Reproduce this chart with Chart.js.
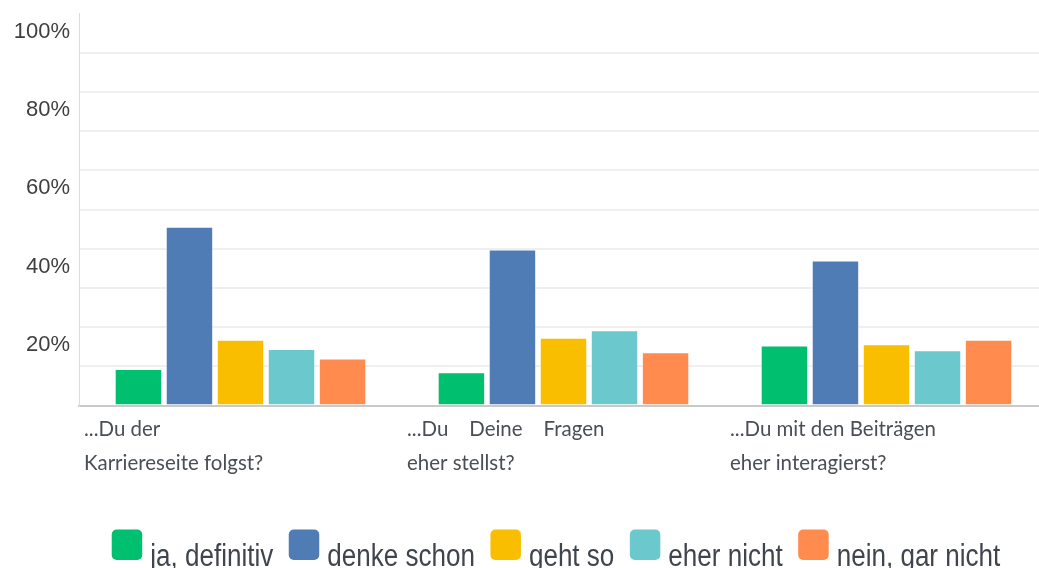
<!DOCTYPE html>
<html>
<head>
<meta charset="utf-8">
<script src="https://cdn.jsdelivr.net/npm/chart.js@4.4.0/dist/chart.umd.min.js"></script>
<style>
  html, body { margin: 0; padding: 0; background: #fff; overflow: hidden; }
  #chart { display: block; }
</style>
</head>
<body>
<canvas id="chart" width="1048" height="568"></canvas>
<script>
// Fragen (x-Achse), eine Zeile pro Eintrag
const fragen = [
  ['...Du der', 'Karriereseite folgst?'],
  ['...Du    Deine    Fragen', 'eher stellst?'],
  ['...Du mit den Beiträgen', 'eher interagierst?']
];
const antworten = ['ja, definitiv', 'denke schon', 'geht so', 'eher nicht', 'nein, gar nicht'];
const farben = ['#00bf6f', '#507cb6', '#f9be00', '#6bc8cd', '#ff8b4f'];

// Anteile in %, Reihenfolge wie "fragen"
const jaDefinitiv = [9.3, 8.5, 15.3];
const denkeSchon = [45.6, 39.8, 37.0];
const gehtSo = [16.8, 17.3, 15.6];
const eherNicht = [14.4, 19.2, 14.1];
const neinGarNicht = [12.0, 13.6, 16.8];

const yBeschriftet = [20, 40, 60, 80, 100];

const werte = [jaDefinitiv, denkeSchon, gehtSo, eherNicht, neinGarNicht];

// x-Beschriftung selbst zeichnen (linksbündig, zweizeilig)
const frageLabels = {
  id: 'frageLabels',
  afterDraw(chart) {
    const { ctx, scales: { x }, chartArea } = chart;
    const breite = x.width / fragen.length;
    ctx.save();
    ctx.fillStyle = '#4a4f55';
    ctx.font = '22px Lato';
    ctx.textBaseline = 'middle';
    fragen.forEach((zeilen, i) => {
      const links = x.getPixelForValue(i) - breite / 2 + 5;
      zeilen.forEach((t, j) => {
        ctx.save();
        ctx.translate(links, chartArea.bottom + 23 + j * 34);
        ctx.scale(0.93, 1);
        ctx.fillText(t, 0, 0);
        ctx.restore();
      });
    });
    ctx.restore();
  }
};

// Legende unten: schmal gesetzte Schrift, Kästchen etwas höher als der Text
const legende = {
  id: 'legende',
  afterDraw(chart) {
    const { ctx } = chart;
    const sx = 0.84, box = 30.5, abstand = 8, luecke = 15.5;
    ctx.save();
    ctx.font = "31px 'Liberation Sans', Arial";
    ctx.textBaseline = 'alphabetic';
    const breiten = antworten.map(a => ctx.measureText(a).width * sx);
    const gesamt = breiten.reduce((s, b) => s + b + box + abstand, 0) + luecke * (antworten.length - 1);
    let x = 556 - gesamt / 2;
    antworten.forEach((a, i) => {
      ctx.fillStyle = farben[i];
      ctx.beginPath();
      ctx.roundRect(x, 529.5, box, box, 5);
      ctx.fill();
      ctx.save();
      ctx.translate(x + box + abstand, 565.5);
      ctx.scale(sx, 1);
      ctx.fillStyle = '#40454d';
      ctx.fillText(a, 0, 0);
      ctx.restore();
      x += box + abstand + breiten[i] + luecke;
    });
    ctx.restore();
  }
};

new Chart(document.getElementById('chart'), {
  type: 'bar',
  data: {
    labels: fragen.map(f => f.join(' ')),
    datasets: antworten.map((a, i) => ({
      label: a,
      data: werte[i],
      backgroundColor: farben[i],
      borderColor: 'rgba(255,255,255,0.55)',
      borderWidth: 1,
      categoryPercentage: 0.79,
      barPercentage: 0.93
    }))
  },
  options: {
    responsive: false,
    animation: false,
    layout: { padding: { top: 13.5, left: 0, right: 0, bottom: 42.5 } },
    plugins: {
      tooltip: { enabled: false },
      legend: { display: false }
    },
    scales: {
      x: {
        grid: { display: false },
        border: { color: '#c9c9c9', width: 2 },
        ticks: { display: false },
        afterFit(s) { s.height = 120; s.paddingLeft = 0; s.paddingRight = 0; }
      },
      y: {
        min: 0,
        max: 100,
        afterFit(s) { s.width = 79; s.paddingTop = 0; s.paddingBottom = 0; },
        ticks: {
          stepSize: 10,
          padding: 9,
          labelOffset: 18,
          color: '#3f3f3f',
          font: { family: "'Liberation Sans', Arial", size: 22 },
          callback: v => yBeschriftet.includes(v) ? v + '%' : ''
        },
        grid: {
          drawTicks: false,
          lineWidth: 2,
          color: c => (c.tick.value === 0 || c.tick.value === 100) ? 'rgba(0,0,0,0)' : '#efefef'
        },
        border: { color: '#dcdcdc', width: 1 }
      }
    }
  },
  plugins: [frageLabels, legende]
});
</script>
</body>
</html>
